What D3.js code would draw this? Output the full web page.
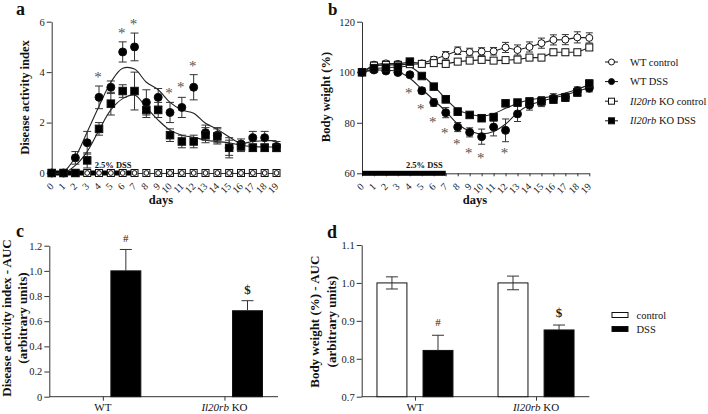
<!DOCTYPE html>
<html><head><meta charset="utf-8">
<script src="https://cdn.jsdelivr.net/npm/d3@7"></script>
<style>body{margin:0;background:#fff} text{font-family:"Liberation Serif","Times New Roman","DejaVu Serif",serif}</style>
</head><body><svg id="c" width="708" height="414"></svg>
<script>
// ---------- data ----------
const days = [0,1,2,3,4,5,6,7,8,9,10,11,12,13,14,15,16,17,18,19];
const dayLabels = ["0","1","2","3","4","5","6","7","8","9","10","11","12","13","14","15","16","17","18","19"];
const dssDays = [0, 7];

// panel a: disease activity index
const aWtCtrl = [0,0,0,0,0,0,0,0,0,0,0,0,0,0,0,0,0,0,0,0];
const aKoCtrl = [0,0,0,0,0,0,0,0,0,0,0,0,0,0,0,0,0,0,0,0];
const aWtDss = [0,0,0.6,1.2,3.0,3.4,4.8,5.0,2.8,3.0,2.4,2.6,3.4,1.6,1.5,1.0,1.15,1.4,1.4,1.05];
const aWtDssErr = [0,0,0.25,0.45,0.45,0.25,0.4,0.55,0.5,0.35,0.4,0.4,0.5,0.3,0.3,0.3,0.2,0.25,0.25,0.2];
const aKoDss = [0,0,0,0.5,1.75,2.75,3.25,3.25,2.5,2.5,1.5,1.25,1.25,1.5,1.45,1.0,1.05,1.0,1.0,1.0];
const aKoDssErr = [0,0,0,0.3,0.25,0.45,0.25,0.75,0.3,0.3,0.25,0.25,0.25,0.3,0.3,0.4,0.2,0.15,0.15,0.15];
const aWtFit = [0,0.05,0.63,1.63,2.65,3.6,4.15,4.12,3.6,3.3,2.8,2.5,2.37,1.97,1.73,1.43,1.18,1.25,1.28,1.28];
const aKoFit = [0,0,0.3,0.85,1.7,2.5,2.95,3.09,2.6,2.1,1.7,1.5,1.42,1.3,1.25,1.2,1.1,1.05,1.03,1.03];
const aStarDays = [4,6,7,10,11,12];
const aStarVals = [3.97,5.73,6.09,3.35,3.59,4.41];
const aTicks = [0,2,4,6];

// panel b: body weight (%)
const bWtCtrl = [100,103,103.5,103.3,104,103.5,105,106.7,108.5,108,108.2,108.3,109.8,108.8,110,111.5,112.8,112.9,113.8,113.6];
const bWtCtrlErr = [0.5,1,1,1,1,1,1.2,1.5,1.5,1.5,1.5,1.5,2,2,2,2,2,2,2.2,2];
const bKoCtrl = [100,102.6,102.9,102.9,103.2,103.3,103.6,103.3,104.2,104.6,104.9,104.6,104.8,105,105.8,105.8,107.9,107.9,107.9,109.8];
const bKoCtrlErr = [0.5,0.8,0.8,0.8,1,0.8,0.8,0.8,1,1,1,1,1,1,1.2,1.2,1.2,1.2,1.2,1.2];
const bWtDss = [100,100.9,100.5,99.9,99,92.7,88,84,78.3,76.2,74.5,78.3,77,83.5,87,88.4,89.7,90.1,92.7,93.7];
const bWtDssErr = [0.5,0.7,0.8,0.8,0.8,1.2,1.5,2,1.8,1.8,3,3.5,4.5,3,2,2,1.8,1.5,1.5,1.5];
const bKoDss = [100,101.6,101.8,102.2,104.2,98.5,94.3,89.3,84.4,83.1,81.8,82.2,87.7,88,88.4,88.5,89.2,90,92,95.5];
const bKoDssErr = [0.5,0.8,0.8,0.8,0.8,0.8,0.8,1.5,1.5,0.8,1.2,1.5,1,1,1.5,1.5,1.5,1.5,1.5,1.5];
const bWtFit = [100,100.8,100.8,100.3,97.6,93.3,89,84.5,79.5,76.7,75.6,76.5,79.5,84,87,88.5,89.8,91,92.5,93.8];
const bKoFit = [100,101.3,101.8,102,102.2,98.9,94.6,89.5,85.2,83.4,82.7,83.6,85.7,87.7,89,89.8,90.5,91.8,93.3,95];
const bStarDays = [4,5,6,7,8,9,10,12];
const bStarVals = [93.3,87.0,82.2,77.8,73.2,69.6,67.9,69.9];
const bTicks = [60,80,100,120];
const bLegend = ["WT control","WT DSS","Il20rb KO control","Il20rb KO DSS"];

// panels c and d: AUC
const groups = ["WT","Il20rb KO"];
const subgroups = ["control","DSS"];
const cDss = [1.0, 0.683];
const cDssErr = [0.17, 0.08];
const cMarks = ["#","$"];
const cTicks = [0,0.2,0.4,0.6,0.8,1.0,1.2];
const dControl = [1.0, 1.0];
const dControlErr = [0.016, 0.018];
const dDss = [0.822, 0.876];
const dDssErr = [0.04, 0.013];
const dMarks = ["#","$"];
const dTicks = [0.7,0.8,0.9,1.0,1.1];

// ---------- drawing ----------
const svg = d3.select("#c");
const AX = "#333", INK = "#111", FONT = "'Liberation Serif','Times New Roman','DejaVu Serif',serif";

function styleAxis(g, fs) {
  g.select(".domain").attr("stroke", AX);
  g.selectAll(".tick line").attr("stroke", AX);
  g.selectAll("text").attr("font-family", FONT).attr("font-size", fs).attr("fill", "#222");
}
function label(x, y, txt, opts = {}) {
  const t = svg.append("text").attr("x", x).attr("y", y).text(txt)
    .attr("font-family", FONT).attr("font-size", opts.fs || 12)
    .attr("font-weight", opts.bold ? "bold" : "normal")
    .attr("text-anchor", opts.anchor || "start").attr("fill", opts.fill || "#111");
  if (opts.rot) t.attr("transform", `rotate(${opts.rot},${x},${y})`);
  return t;
}
function rtext(sel, parts) {
  parts.forEach(p => sel.append("tspan").text(p[0]).attr("font-style", p[1] ? "italic" : "normal"));
}
function errBars(g, x, y, vals, errs, cap) {
  days.forEach(i => {
    if (!errs[i]) return;
    const cx = x(days[i]), y1 = y(vals[i] + errs[i]), y2 = y(vals[i] - errs[i]);
    g.append("line").attr("x1", cx).attr("x2", cx).attr("y1", y1).attr("y2", y2).attr("stroke", AX);
    [y1, y2].forEach(yy => g.append("line").attr("x1", cx - cap).attr("x2", cx + cap).attr("y1", yy).attr("y2", yy).attr("stroke", AX));
  });
}
function circles(g, x, y, vals, r, fill) {
  g.selectAll(null).data(days).join("circle").attr("cx", i => x(days[i])).attr("cy", i => y(vals[i]))
    .attr("r", r).attr("fill", fill).attr("stroke", INK).attr("stroke-width", 1);
}
function squares(g, x, y, vals, s, fill) {
  g.selectAll(null).data(days).join("rect").attr("x", i => x(days[i]) - s / 2).attr("y", i => y(vals[i]) - s / 2)
    .attr("width", s).attr("height", s).attr("fill", fill).attr("stroke", INK).attr("stroke-width", 1);
}
function curve(g, x, y, vals, type) {
  g.append("path").datum(days).attr("fill", "none").attr("stroke", "#222").attr("stroke-width", 1.1)
    .attr("d", d3.line().x(i => x(days[i])).y(i => y(vals[i])).curve(type || d3.curveCatmullRom.alpha(0.5)));
}
function timeAxes(x, y, ticks, x0, y0) {
  const gy = svg.append("g").attr("transform", `translate(${x0},0)`)
    .call(d3.axisLeft(y).tickValues(ticks).tickFormat(d3.format("d")).tickSize(5).tickSizeOuter(0).tickPadding(2));
  styleAxis(gy, 10.5);
  const gx = svg.append("g").attr("transform", `translate(0,${y0})`)
    .call(d3.axisBottom(x).tickValues(days).tickFormat(i => dayLabels[i]).tickSize(3).tickSizeOuter(0));
  styleAxis(gx, 10);
  gx.selectAll(".tick text").attr("y", 0).attr("dy", 0).attr("text-anchor", "end")
    .attr("transform", "translate(2,14) rotate(-45)");
  svg.append("rect").attr("x", x(dssDays[0])).attr("width", x(dssDays[1]) - x(dssDays[0]))
    .attr("y", y0 - 2.5).attr("height", 5).attr("fill", "#000");
  label(x(dssDays[1]) - 3, y0 - 5, "2.5% DSS", { fs: 8.5, bold: true, anchor: "end" });
}
function stars(g, x, y, ds, vs) {
  ds.forEach((d, k) => g.append("text").attr("x", x(d) - 1).attr("y", y(vs[k])).attr("dy", "0.62em")
    .attr("text-anchor", "middle").attr("font-family", FONT).attr("font-size", 15).attr("fill", "#555").text("*"));
}

// ===== panel a =====
{
  const x = d3.scaleLinear([0, 19], [51.7, 276.5]);
  const y = d3.scaleLinear([0, 6], [173, 21.7]);
  timeAxes(x, y, aTicks, 51.7, 173);
  const g = svg.append("g");
  curve(g, x, y, aWtFit);
  curve(g, x, y, aKoFit);
  errBars(g, x, y, aWtDss, aWtDssErr, 4);
  errBars(g, x, y, aKoDss, aKoDssErr, 4);
  squares(g, x, y, aKoCtrl, 7, "#fff");
  circles(g, x, y, aWtCtrl, 2.4, "none");
  circles(g, x, y, aWtDss, 4, "#000");
  squares(g, x, y, aKoDss, 7.5, "#000");
  stars(g, x, y, aStarDays, aStarVals);
  label(161, 204, "days", { fs: 12.5, bold: true, anchor: "middle" });
  label(29, 97.5, "Disease activity index", { fs: 12.5, bold: true, anchor: "middle", rot: -90 });
  label(16, 15, "a", { fs: 18, bold: true });
}

// ===== panel b =====
{
  const x = d3.scaleLinear([0, 19], [362, 589.3]);
  const y = d3.scaleLinear([60, 120], [173.3, 21.7]);
  timeAxes(x, y, bTicks, 362, 173.3);
  const g = svg.append("g");
  curve(g, x, y, bWtCtrl, d3.curveLinear);
  curve(g, x, y, bKoCtrl, d3.curveLinear);
  curve(g, x, y, bWtFit);
  curve(g, x, y, bKoFit);
  errBars(g, x, y, bWtCtrl, bWtCtrlErr, 3.5);
  errBars(g, x, y, bKoCtrl, bKoCtrlErr, 3.5);
  errBars(g, x, y, bWtDss, bWtDssErr, 3.5);
  errBars(g, x, y, bKoDss, bKoDssErr, 3.5);
  circles(g, x, y, bWtCtrl, 3.5, "#fff");
  squares(g, x, y, bKoCtrl, 7, "#fff");
  circles(g, x, y, bWtDss, 4, "#000");
  squares(g, x, y, bKoDss, 7.5, "#000");
  stars(g, x, y, bStarDays, bStarVals);
  label(475, 204, "days", { fs: 12.5, bold: true, anchor: "middle" });
  label(330, 97, "Body weight (%)", { fs: 12.5, bold: true, anchor: "middle", rot: -90 });
  label(328, 15, "b", { fs: 17, bold: true });
  const lg = svg.append("g");
  bLegend.forEach((name, k) => {
    const yy = 62 + k * 19.6;
    lg.append("line").attr("x1", 605).attr("x2", 618).attr("y1", yy).attr("y2", yy).attr("stroke", INK);
    if (k < 2) lg.append("circle").attr("cx", 611.5).attr("cy", yy).attr("r", 3).attr("fill", k === 0 ? "#fff" : "#000").attr("stroke", INK);
    else lg.append("rect").attr("x", 608.5).attr("y", yy - 3).attr("width", 6).attr("height", 6).attr("fill", k === 2 ? "#fff" : "#000").attr("stroke", INK);
    const t = lg.append("text").attr("x", 630).attr("y", yy + 3.5).attr("font-family", FONT).attr("font-size", 10.5).attr("fill", "#111");
    if (name.startsWith("Il20rb")) rtext(t, [["Il20rb", true], [name.slice(6), false]]);
    else t.text(name);
  });
}

// ===== bar panels =====
function barPanel(x0, x1, y, ticks, fmt, ctrl, ctrlErr, dss, dssErr, marks, markOff) {
  const xg = d3.scalePoint(groups, [x0, x1]).padding(0.44);
  const xs = d3.scaleBand(subgroups, [-38, 38]).paddingInner(0.35);
  const y0 = y.range()[0];
  const gy = svg.append("g").attr("transform", `translate(${x0},0)`)
    .call(d3.axisLeft(y).tickValues(ticks).tickFormat(fmt).tickSize(5).tickSizeOuter(0).tickPadding(2));
  styleAxis(gy, 10.5);
  const gx = svg.append("g").attr("transform", `translate(0,${y0})`)
    .call(d3.axisBottom(xg).tickSize(4).tickSizeOuter(0).tickFormat(""));
  gx.select(".domain").attr("d", `M${x0},0H${x1}`);
  styleAxis(gx, 11);
  groups.forEach((gname) => {
    const t = svg.append("text").attr("x", xg(gname)).attr("y", y0 + 14).attr("text-anchor", "middle")
      .attr("font-family", FONT).attr("font-size", 11).attr("fill", "#111");
    if (gname.startsWith("Il20rb")) rtext(t, [["Il20rb", true], [gname.slice(6), false]]);
    else t.text(gname);
  });
  const g = svg.append("g");
  const series = [];
  if (ctrl) series.push(["control", ctrl, ctrlErr, "#fff"]);
  series.push(["DSS", dss, dssErr, "#000"]);
  series.forEach(([sg, vals, errs, fill]) => {
    groups.forEach((gname, k) => {
      const bx = xg(gname) + xs(sg);
      g.append("rect").attr("x", bx).attr("width", xs.bandwidth()).attr("y", y(vals[k]))
        .attr("height", y0 - y(vals[k])).attr("fill", fill).attr("stroke", INK).attr("stroke-width", 1);
      const cx = bx + xs.bandwidth() / 2, ya = y(vals[k] + errs[k]), yb = y(vals[k] - errs[k]);
      const lowVisible = sg === "control";
      g.append("line").attr("x1", cx).attr("x2", cx).attr("y1", ya).attr("y2", lowVisible ? yb : y(vals[k])).attr("stroke", AX);
      (lowVisible ? [ya, yb] : [ya]).forEach(yy => g.append("line").attr("x1", cx - 6).attr("x2", cx + 6).attr("y1", yy).attr("y2", yy).attr("stroke", AX));
      if (sg === "DSS") {
        const m = marks[k];
        g.append("text").attr("x", cx).attr("y", ya - markOff).attr("dy", "0.35em").attr("text-anchor", "middle")
          .attr("font-family", FONT).attr("font-size", m === "$" ? 13 : 11).attr("font-weight", m === "$" ? "bold" : "normal")
          .attr("fill", "#222").text(m);
      }
    });
  });
}

// ===== panel c =====
{
  const y = d3.scaleLinear([0, 1.2], [396.7, 245.7]);
  barPanel(49.3, 278, y, cTicks, d => d === 0 ? "0" : d3.format(".1f")(d), null, null, cDss, cDssErr, cMarks, 11);
  label(11, 318, "Disease activity index - AUC", { fs: 13, bold: true, anchor: "middle", rot: -90 });
  label(26.5, 318, "(arbitrary units)", { fs: 13, bold: true, anchor: "middle", rot: -90 });
  label(16, 236.5, "c", { fs: 18, bold: true });
}

// ===== panel d =====
{
  const y = d3.scaleLinear([0.7, 1.1], [396.7, 245]);
  barPanel(361.7, 589.3, y, dTicks, d3.format(".1f"), dControl, dControlErr, dDss, dDssErr, dMarks, 13);
  label(319.5, 321.7, "Body weight (%) - AUC", { fs: 13, bold: true, anchor: "middle", rot: -90 });
  label(336, 321.7, "(arbitrary units)", { fs: 13, bold: true, anchor: "middle", rot: -90 });
  label(327, 237.5, "d", { fs: 18, bold: true });
  const lg = svg.append("g");
  subgroups.forEach((sg, k) => {
    const yy = 315 + k * 14;
    lg.append("rect").attr("x", 612).attr("y", yy - 2.5).attr("width", 16).attr("height", 5)
      .attr("fill", k === 0 ? "#fff" : "#000").attr("stroke", INK);
    lg.append("text").attr("x", 636.5).attr("y", yy + 3.5).attr("font-family", FONT).attr("font-size", 10.5).attr("fill", "#111").text(sg);
  });
}
</script></body></html>
